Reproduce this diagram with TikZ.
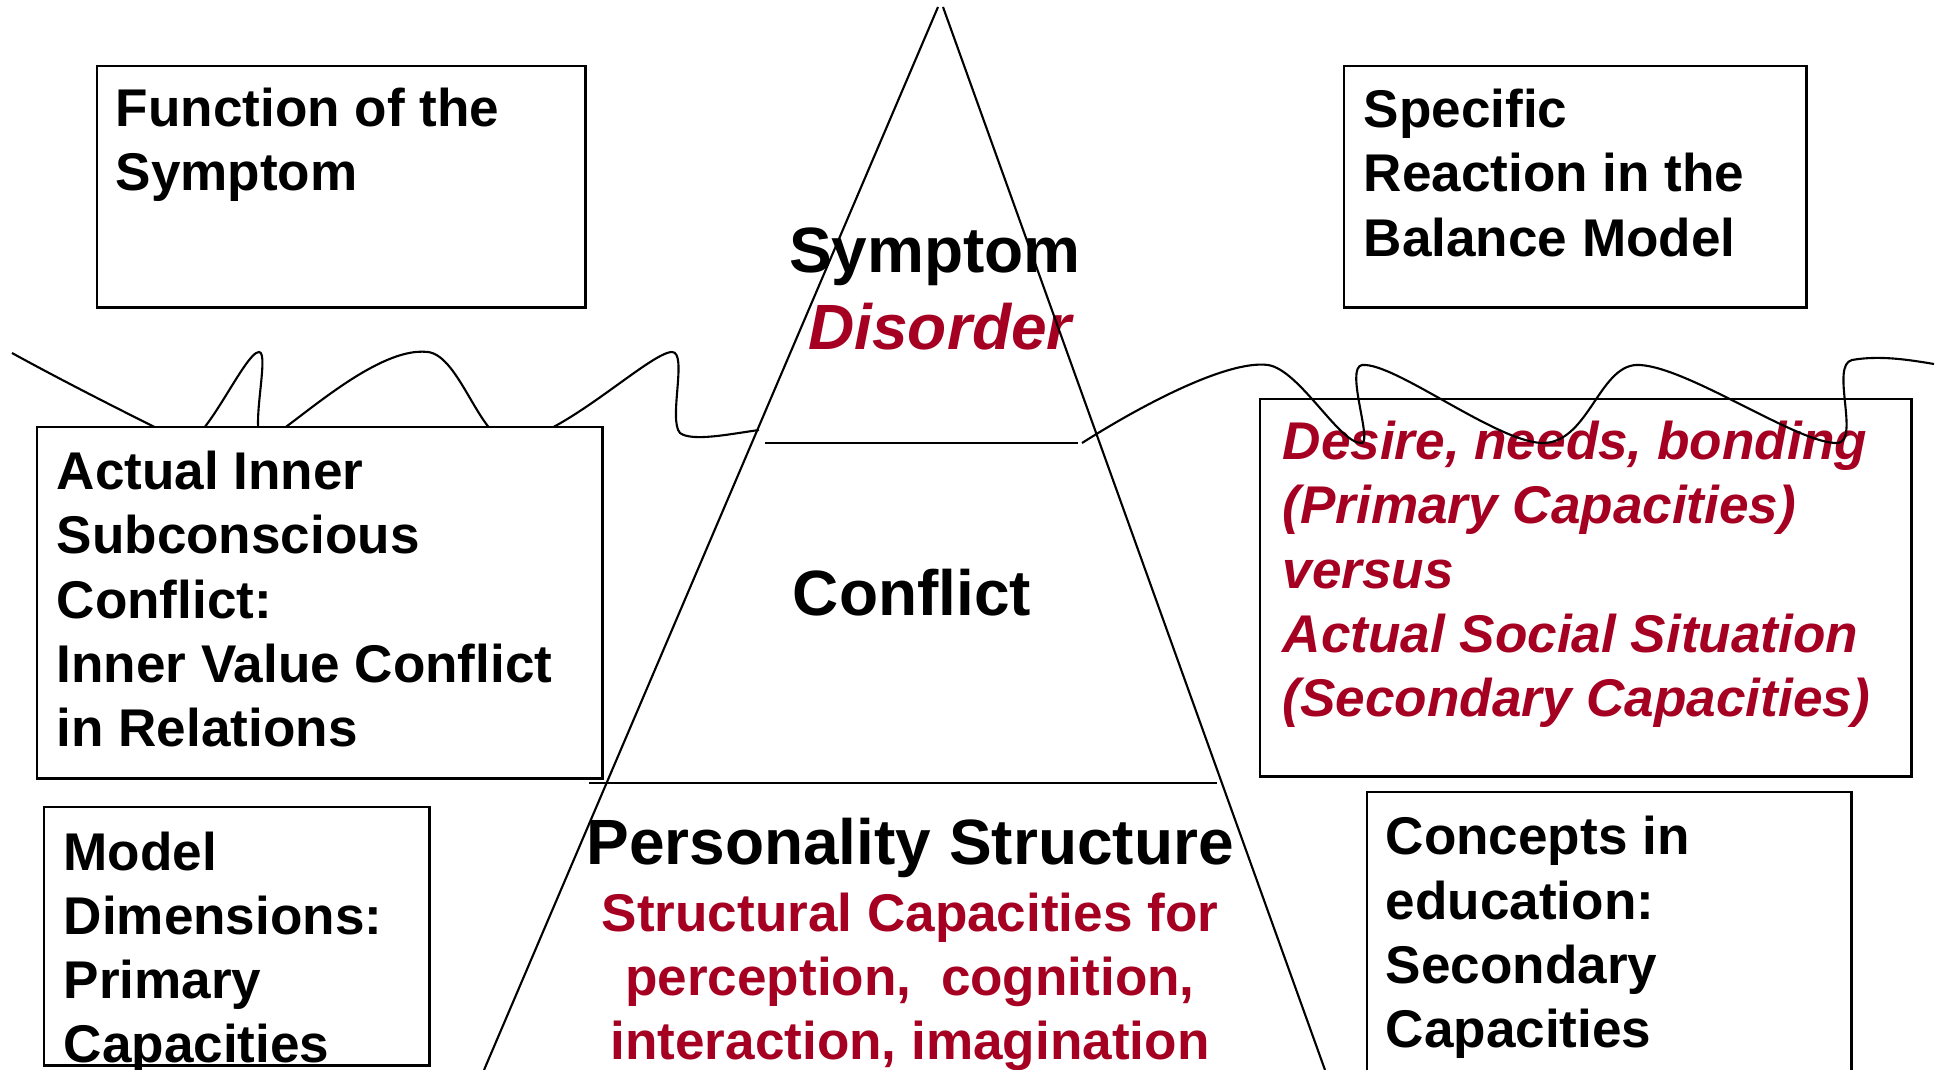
\documentclass[tikz,border=0pt]{standalone}
\usepackage{fontspec}
\setmainfont{Liberation Sans}
\definecolor{dred}{RGB}{165,0,33}
\begin{document}
\begin{tikzpicture}[x=0.01cm,y=-0.01cm,
  box/.style={draw=black,line width=0.7pt,fill=white,anchor=north west,inner sep=0pt},
  wave/.style={line width=0.6pt},
  edge/.style={line width=0.6pt},
  boxtext/.style={anchor=base west,inner sep=0pt,align=left,font=\fontsize{15.1}{18.2}\selectfont\bfseries},
  bigtext/.style={anchor=base,inner sep=0pt,font=\fontsize{18.2}{21.6}\selectfont\bfseries},
  redtext/.style={text=dred}]
\useasboundingbox (0,0) rectangle (1936,1070);
\clip (0,0) rectangle (1936,1070);

% left wave (partly hidden by the box below)
\coordinate (lw0) at (12,353);
\coordinate (lw1) at (759,430);
\draw[wave] (lw0) .. controls (70,385) and (150,425) .. (185,442)
  .. controls (205,445) and (245,352) .. (259,352)
  .. controls (270,352) and (250,430) .. (262,440)
  .. controls (275,445) and (370,345) .. (428,352)
  .. controls (460,356) and (480,440) .. (510,442)
  .. controls (560,440) and (650,352) .. (672,352)
  .. controls (688,352) and (668,420) .. (680,433)
  .. controls (692,442) and (730,434) .. (lw1);

% boxes
\node[box,minimum width=4.88cm,minimum height=2.41cm] (fbox) at (96,65) {};
\node[box,minimum width=4.62cm,minimum height=2.41cm] (sbox) at (1343,65) {};
\node[box,minimum width=5.65cm,minimum height=3.51cm] (abox) at (36,426) {};
\node[box,minimum width=6.51cm,minimum height=3.77cm] (dbox) at (1259,398) {};
\node[box,minimum width=3.85cm,minimum height=2.58cm] (mbox) at (43,806) {};
\node[box,minimum width=4.84cm,minimum height=3.20cm] (cbox) at (1366,791) {};

% box texts (anchored at the baseline of the last line)
\node[boxtext] (ftext) at (115,191) {Function of the\\Symptom};
\node[boxtext] (stext) at (1363,256) {Specific\\Reaction in the\\Balance Model};
\node[boxtext] (atext) at (56,746) {Actual Inner\\Subconscious\\Conflict:\\Inner Value Conflict\\in Relations};
\node[boxtext] (mtext) at (63,1062) {Model\\Dimensions:\\Primary\\Capacities};
\node[boxtext] (ctext) at (1385,1047) {Concepts in\\education:\\Secondary\\Capacities};
\node[boxtext,redtext,font=\fontsize{15.1}{18.2}\selectfont\bfseries\itshape] (dtext) at (1282,716)
  {Desire, needs, bonding\\(Primary Capacities)\\versus\\Actual Social Situation\\(Secondary Capacities)};

% pyramid texts
\node[bigtext] (symptom) at (935,273) {Symptom};
\node[bigtext,redtext,font=\fontsize{18.2}{21.6}\selectfont\bfseries\itshape] (disorder) at (940,349) {Disorder};
\node[bigtext] (conflict) at (912,615) {Conflict};
\node[bigtext] (pers) at (910,864) {Personality Structure};
\node[bigtext,redtext,align=center,font=\fontsize{15.1}{18.2}\selectfont\bfseries] (struct) at (910,1059)
  {Structural Capacities for\\perception,~ cognition,\\interaction, imagination};

% right wave (over the box)
\coordinate (rw0) at (1082,443);
\coordinate (rw1) at (1934,364);
\draw[wave] (rw0) .. controls (1150,400) and (1230,360) .. (1268,365)
  .. controls (1300,370) and (1340,445) .. (1362,443)
  .. controls (1372,440) and (1345,368) .. (1362,365)
  .. controls (1395,362) and (1500,445) .. (1545,443)
  .. controls (1590,440) and (1600,362) .. (1640,365)
  .. controls (1690,368) and (1800,445) .. (1838,443)
  .. controls (1860,440) and (1830,365) .. (1852,360)
  .. controls (1880,355) and (1910,360) .. (rw1);

% pyramid
\coordinate (apexL) at (938,7);
\coordinate (apexR) at (943,7);
\coordinate (baseL) at (484,1070);
\coordinate (baseR) at (1325,1070);
\draw[edge] (apexL) -- (baseL);
\draw[edge] (apexR) -- (baseR);
\coordinate (l1a) at (765,443);
\coordinate (l1b) at (1078,443);
\coordinate (l2a) at (589,783);
\coordinate (l2b) at (1217,783);
\draw[edge] (l1a) -- (l1b);
\draw[edge] (l2a) -- (l2b);
\end{tikzpicture}
\end{document}
